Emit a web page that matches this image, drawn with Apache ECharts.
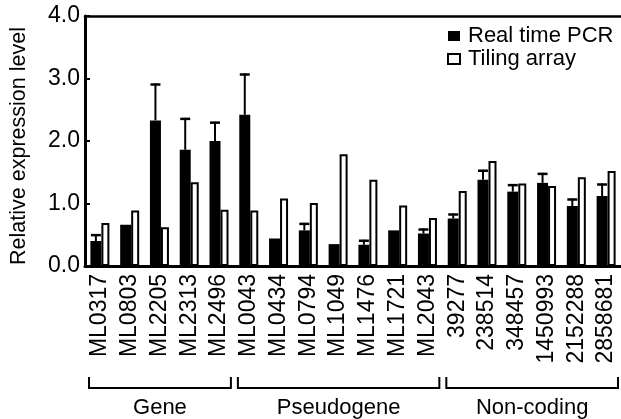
<!DOCTYPE html>
<html>
<head>
<meta charset="utf-8">
<script src="https://cdn.jsdelivr.net/npm/echarts@6/dist/echarts.min.js"></script>
<style>
html,body{margin:0;padding:0;background:#fff;}
#c{width:621px;height:419px;}
</style>
</head>
<body>
<div id="c"></div>
<script>
const categories = ['ML0317','ML0803','ML2205','ML2313','ML2496','ML0043','ML0434','ML0794','ML1049','ML1476','ML1721','ML2043','39277','238514','348457','1450993','2152288','2858681'];
const pcrValues = [0.40,0.66,2.33,1.86,2.00,2.42,0.44,0.57,0.35,0.34,0.57,0.52,0.76,1.38,1.19,1.33,0.96,1.12];
const pcrErrors = [0.11,0,0.59,0.51,0.31,0.66,0,0.12,0,0.08,0,0.08,0.08,0.16,0.12,0.16,0.12,0.20];
const tilingValues = [0.69,0.89,0.62,1.34,0.90,0.89,1.08,1.01,1.79,1.38,0.97,0.77,1.20,1.68,1.32,1.28,1.42,1.52];
const groupNames = ['Gene','Pseudogene','Non-coding'];
const groupSizes = [5,7,6];
const yTicks = ['0.0','1.0','2.0','3.0','4.0'];
const seriesNames = ['Real time PCR','Tiling array'];

const FONT = '"Liberation Sans", Arial, sans-serif';
const chart = echarts.init(document.getElementById('c'), null, {renderer:'canvas'});

const errData = categories.map((c,i)=>[i, pcrValues[i], pcrErrors[i]]);

chart.setOption({
  animation:false,
  backgroundColor:'#fff',
  grid:{left:83, right:0, top:16, bottom:153, containLabel:false},
  legend:{
    orient:'vertical', left:442, top:20, itemWidth:12, itemHeight:10, itemGap:1,
    icon:'rect',
    textStyle:{fontFamily:FONT, fontSize:22, color:'#000', padding:[0,0,0,3]},
    data:seriesNames
  },
  xAxis:[{
    type:'category', data:categories, position:'bottom',
    axisLine:{show:true, lineStyle:{color:'#000', width:3}},
    axisTick:{show:false},
    axisLabel:{rotate:90, margin:8, fontFamily:FONT, fontSize:23, color:'#000', interval:0}
  },{
    type:'category', data:categories, position:'top',
    axisLine:{show:true, lineStyle:{color:'#000', width:2.5}},
    axisTick:{show:false}, axisLabel:{show:false}
  }],
  yAxis:{
    type:'value', min:0, max:4, interval:1,
    name:'Relative expression level', nameLocation:'middle', nameRotate:90, nameGap:55,
    nameTextStyle:{fontFamily:FONT, fontSize:21.5, color:'#000', padding:[0,10,0,0]},
    axisLine:{show:true, lineStyle:{color:'#000', width:3}},
    axisTick:{show:true, inside:true, length:5, lineStyle:{color:'#000', width:2}},
    axisLabel:{margin:5, fontFamily:FONT, fontSize:23, color:'#000',
      formatter:(v)=>yTicks[Math.round(v)]},
    splitLine:{show:false}
  },
  series:[{
    name:seriesNames[0], type:'bar', data:pcrValues, barWidth:11, barGap:'0%',
    itemStyle:{color:'#000'}
  },{
    name:seriesNames[1], type:'bar', data:tilingValues, barWidth:8,
    itemStyle:{color:'#fff', borderColor:'#000', borderWidth:2}
  },{
    type:'custom', name:'err', data:errData, z:10,
    encode:{x:0, y:1},
    renderItem:function(params, api){
      const e = api.value(2);
      if(!e) return;
      const idx = api.value(0), v = api.value(1);
      const p0 = api.coord([idx, v]);
      const p1 = api.coord([idx, v+e]);
      const x = p0[0] - 4;
      return {type:'group', children:[
        {type:'line', shape:{x1:x, y1:p0[1], x2:x, y2:p1[1]}, style:{stroke:'#000', lineWidth:2}},
        {type:'line', shape:{x1:x-5, y1:p1[1]+1, x2:x+5, y2:p1[1]+1}, style:{stroke:'#000', lineWidth:2.5}}
      ]};
    }
  }]
});

// group brackets below the category labels
const band = chart.convertToPixel({xAxisIndex:0}, 1) - chart.convertToPixel({xAxisIndex:0}, 0);
const graphics = [];
let start = 0;
groupSizes.forEach((n, g)=>{
  const x0 = chart.convertToPixel({xAxisIndex:0}, start) - band/2 + 4;
  const x1 = chart.convertToPixel({xAxisIndex:0}, start+n-1) + band/2 - 3;
  graphics.push({type:'polyline', shape:{points:[[x0,377],[x0,388],[x1,388],[x1,377]]},
    style:{stroke:'#000', lineWidth:2, fill:null}});
  graphics.push({type:'text', x:(x0+x1)/2, y:408,
    style:{text:groupNames[g], fontFamily:FONT, fontSize:22, fill:'#000', textAlign:'center', textVerticalAlign:'middle'}});
  start += n;
});
chart.setOption({graphic:graphics});
</script>
</body>
</html>
